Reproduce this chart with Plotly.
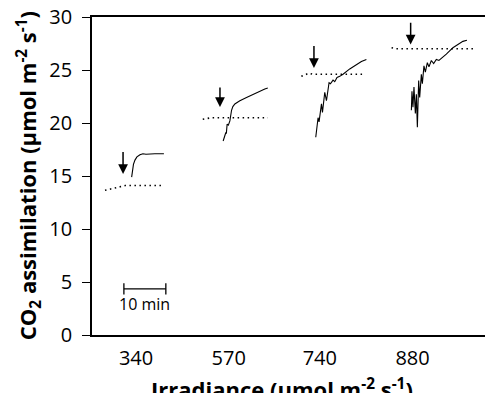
import plotly.graph_objects as go

# time axis in minutes, CO2 assimilation in umol m-2 s-1
irradiance_labels = ["340", "570", "740", "880"]
label_time = [10.5, 32.6, 54.3, 76.4]
time_range = [0, 95.1]
co2_range = [0, 30]

# dotted baselines (steady state before the light step)
base1_t = [3.1, 4.5, 6.0, 7.9, 17.1]
base1_v = [13.65, 13.8, 13.95, 14.1, 14.1]
base2_t = [26.4, 27.5, 28.5, 41.9]
base2_v = [20.35, 20.45, 20.5, 20.5]
base3_t = [49.9, 50.7, 51.7, 52.6, 64.5]
base3_v = [24.4, 24.55, 24.7, 24.6, 24.6]
base4_t = [71.4, 72.5, 91.2]
base4_v = [27.1, 27.0, 27.0]

# responses after the step
resp1_t = [9.45, 9.64, 9.88, 10.24, 10.71, 11.43, 12.14, 12.86, 13.81, 15.0, 16.19, 17.14]
resp1_v = [14.9, 15.5, 16.1, 16.5, 16.8, 17.0, 17.1, 17.05, 17.1, 17.1, 17.1, 17.1]
resp2_t = [31.26, 31.55, 31.9, 32.02, 32.21, 32.5, 32.86, 33.26, 33.57, 34.05, 35.24,
           36.83, 38.33, 40.0, 41.19, 41.9]
resp2_v = [18.3, 18.8, 19.1, 19.0, 19.9, 19.8, 20.2, 21.2, 21.55, 21.8, 22.1,
           22.4, 22.7, 23.0, 23.2, 23.3]
resp3_t = [53.33, 53.88, 54.12, 54.69, 54.93, 55.48, 55.88, 56.5, 56.83, 57.45, 57.86,
           58.4, 59.05, 59.83, 61.43, 63.02, 64.21, 65.4]
resp3_v = [18.65, 20.5, 20.1, 21.8, 21.0, 22.9, 22.1, 23.8, 23.7, 24.05, 23.9,
           24.3, 24.4, 24.6, 25.1, 25.5, 25.8, 26.0]
resp4_t = [76.12, 76.26, 76.5, 76.74, 77.07, 77.31, 77.55, 77.86, 78.1, 78.5, 78.74,
           79.12, 79.45, 79.93, 80.31, 80.88, 81.43, 82.07, 82.69, 83.64, 84.45,
           85.24, 86.02, 87.21, 88.4, 89.36]
resp4_v = [21.2, 23.0, 21.5, 23.4, 20.9, 22.7, 19.6, 24.0, 22.4, 24.6, 23.7,
           25.4, 24.8, 25.7, 25.3, 25.9, 25.6, 26.0, 25.9, 26.2, 26.5,
           26.8, 27.1, 27.4, 27.7, 27.8]

# arrows marking the light step
arrow_t = [7.4, 30.5, 52.9, 75.95]
arrow_top = [17.4, 23.5, 27.4, 29.6]
arrow_tip = [15.2, 21.5, 25.2, 27.4]

# 10 min scale bar
bar_t = [7.6, 17.6]
bar_v = [4.35, 4.35]
bar_label = "10 min"
bar_label_v = 2.95

FONT = "Open Sans, Noto Sans, sans-serif"

fig = go.Figure()

for t, v in [(base1_t, base1_v), (base2_t, base2_v), (base3_t, base3_v), (base4_t, base4_v)]:
    fig.add_trace(go.Scatter(x=t, y=v, mode="lines",
                             line=dict(color="black", width=1.6, dash="1.5px,3.5px")))

for t, v in [(resp1_t, resp1_v), (resp2_t, resp2_v), (resp3_t, resp3_v), (resp4_t, resp4_v)]:
    fig.add_trace(go.Scatter(x=t, y=v, mode="lines", line=dict(color="black", width=1.1)))

fig.add_trace(go.Scatter(
    x=bar_t, y=bar_v, mode="lines+markers",
    line=dict(color="black", width=1.3),
    marker=dict(symbol="line-ns-open", size=8, line=dict(color="black", width=1.3)),
))

for t, top, tip in zip(arrow_t, arrow_top, arrow_tip):
    fig.add_annotation(x=t, y=tip, ax=t, ay=top, axref="x", ayref="y",
                       showarrow=True, arrowhead=2, arrowsize=1.3, arrowwidth=1.5,
                       arrowcolor="black", text="")

fig.add_annotation(x=sum(bar_t) / 2, y=bar_label_v, text=bar_label, showarrow=False,
                   font=dict(family=FONT, size=16, color="black"))

# axis titles as annotations so they sit where the original has them
fig.add_annotation(xref="paper", yref="paper", x=0.476, y=-0.168,
                   xanchor="center", yanchor="middle",
                   text="<b>Irradiance (µmol m<sup>-2</sup> s<sup>-1</sup>)</b>",
                   showarrow=False, font=dict(family=FONT, size=22, color="black"))
fig.add_annotation(xref="paper", yref="paper", x=-0.160, y=0.50, textangle=-90,
                   xanchor="center", yanchor="middle",
                   text="<b>CO<sub>2</sub> assimilation (µmol m<sup>-2</sup> s<sup>-1</sup>)</b>",
                   showarrow=False, font=dict(family=FONT, size=22, color="black"))

# page body has an 8px margin on every side, so the figure is kept
# small enough that the page never needs to scroll
fig.update_layout(
    width=485, height=385,
    margin=dict(l=84, r=1.5, t=9, b=58, autoexpand=False),
    plot_bgcolor="white", paper_bgcolor="white",
    showlegend=False,
    font=dict(family=FONT, color="black"),
)
fig.update_xaxes(
    range=time_range, tickvals=label_time, ticktext=irradiance_labels,
    ticks="", showgrid=False, zeroline=False, automargin=False,
    showline=True, linecolor="black", linewidth=1.7, mirror=True,
    tickfont=dict(size=20), ticklabelstandoff=4, ticklabeloverflow="allow",
)
fig.update_yaxes(
    range=co2_range, dtick=5, ticks="outside", ticklen=8, tickcolor="black", tickwidth=1.3,
    showgrid=False, zeroline=False, automargin=False,
    showline=True, linecolor="black", linewidth=1.7, mirror=True,
    tickfont=dict(size=20), ticklabelstandoff=6, ticklabeloverflow="allow",
)

fig.write_html("out.html")
